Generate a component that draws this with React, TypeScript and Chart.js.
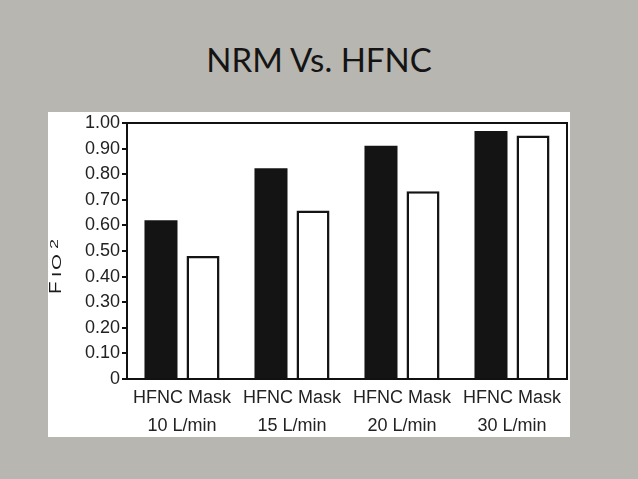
import React, { useEffect, useRef } from "react";
import { Chart, registerables } from "chart.js";

Chart.register(...registerables);

const flowRates = ["10 L/min", "15 L/min", "20 L/min", "30 L/min"];
const deviceLine = "HFNC Mask";
const hfncValues = [0.62, 0.823, 0.911, 0.969];
const maskValues = [0.48, 0.658, 0.733, 0.951];
const yTicks = [0, 0.1, 0.2, 0.3, 0.4, 0.5, 0.6, 0.7, 0.8, 0.9, 1.0];
const titleText = "NRM Vs. HFNC";

const frameAndLabel = {
  id: "frameAndLabel",
  afterDraw(chart: any) {
    const { ctx, chartArea } = chart;
    ctx.save();
    ctx.strokeStyle = "#111";
    ctx.lineWidth = 2;
    ctx.strokeRect(chartArea.left, chartArea.top, chartArea.right - chartArea.left, chartArea.bottom - chartArea.top);
    ctx.restore();

    // rotated y axis title F IO2
    ctx.save();
    ctx.fillStyle = "#1a1a1a";
    ctx.translate(13, 182);
    ctx.rotate(-Math.PI / 2);
    ctx.textBaseline = "alphabetic";
    ctx.textAlign = "left";
    const parts = [
      { t: "F", size: 16.5, sx: 1.25, x: 0, y: 0 },
      { t: "I", size: 12, sx: 1.6, x: 17, y: 0 },
      { t: "O", size: 12, sx: 1.7, x: 24, y: 0 },
      { t: "2", size: 10, sx: 1.8, x: 45, y: -3 },
    ];
    for (const p of parts) {
      ctx.save();
      ctx.translate(p.x, p.y);
      ctx.scale(p.sx, 1);
      ctx.font = `${p.size}px 'Liberation Sans', Arial, sans-serif`;
      ctx.fillText(p.t, 0, 0);
      ctx.restore();
    }
    ctx.restore();
  },
};

function BarChart() {
  const ref = useRef<HTMLCanvasElement>(null);
  useEffect(() => {
    if (!ref.current) return;
    const labels = flowRates.map((f) => [deviceLine, f]);
    const chart = new Chart(ref.current, {
      type: "bar",
      data: {
        labels,
        datasets: [
          {
            label: "HFNC",
            data: hfncValues,
            backgroundColor: "#141414",
            borderColor: "#141414",
            borderWidth: 0,
            barPercentage: 0.786,
            categoryPercentage: 0.764,
          },
          {
            label: "Mask",
            data: maskValues,
            backgroundColor: "#ffffff",
            borderColor: "#141414",
            borderWidth: 2.5,
            barPercentage: 0.786,
            categoryPercentage: 0.764,
          },
        ],
      },
      options: {
        animation: false,
        responsive: false,
        maintainAspectRatio: false,
        layout: { padding: { top: 9, right: 3, left: 0, bottom: 0 } },
        plugins: { legend: { display: false }, tooltip: { enabled: false }, title: { display: false } },
        scales: {
          x: {
            grid: { display: false, drawTicks: false },
            border: { display: false },
            ticks: {
              color: "#222",
              padding: 5,
              maxRotation: 0,
              minRotation: 0,
              autoSkip: false,
              font: { family: "'Liberation Sans', Arial, sans-serif", size: 18, lineHeight: 1.556 },
            },
            afterFit(scale: any) {
              scale.height = 58;
            },
          },
          y: {
            min: 0,
            max: 1,
            afterBuildTicks(scale: any) {
              scale.ticks = yTicks.map((v) => ({ value: v }));
            },
            grid: { drawOnChartArea: false, drawTicks: true, tickLength: 5, color: "#111", lineWidth: 2 },
            border: { display: false },
            ticks: {
              color: "#222",
              padding: 2,
              font: { family: "'Liberation Sans', Arial, sans-serif", size: 18, lineHeight: 1.0 },
              callback: (v: any) => (Number(v) === 0 ? "0" : Number(v).toFixed(2)),
            },
            afterFit(scale: any) {
              scale.width = 79;
            },
          },
        },
      },
      plugins: [frameAndLabel],
    });
    return () => chart.destroy();
  }, []);
  return <canvas ref={ref} width={522} height={325} style={{ display: "block", width: 522, height: 325 }} />;
}

export default function App() {
  return (
    <div style={{ position: "fixed", left: 0, top: 0, width: 638, height: 479, background: "#b8b6b0", overflow: "hidden" }}>
      <div
        style={{
          position: "absolute",
          left: 0,
          width: 638,
          top: 43,
          textAlign: "center",
          fontFamily: "Lato, 'Open Sans', sans-serif",
          fontSize: 33,
          lineHeight: "33px",
          color: "#141414",
        }}
      >
        {titleText}
      </div>
      <div style={{ position: "absolute", left: 48, top: 112, width: 522, height: 325, background: "#fff" }}>
        <BarChart />
      </div>
    </div>
  );
}
